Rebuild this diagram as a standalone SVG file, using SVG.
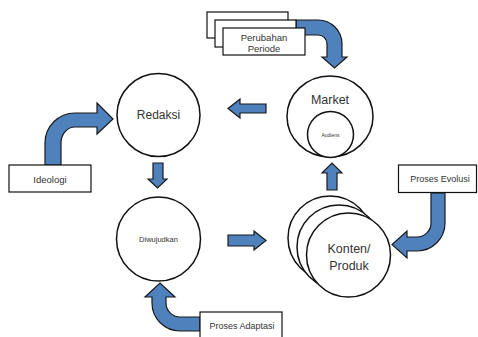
<svg xmlns="http://www.w3.org/2000/svg" width="478" height="337" viewBox="0 0 478 337">
<style>
.c{fill:#fff;stroke:#111;stroke-width:1.5}
.b{fill:#fff;stroke:#111;stroke-width:1.2}
.a{fill:#4f81bd;stroke:#1a1a1a;stroke-width:1.2;stroke-linejoin:miter}
text{font-family:"Liberation Sans",Arial,sans-serif;fill:#333;text-anchor:middle;dominant-baseline:central}
</style>
<rect width="478" height="337" fill="#fff"/>
<g id="connectors">
<path class="a" d="M228,108.5 L240,99 V104 H266 V113 H240 V118 Z"/>
<path class="a" d="M266,240.5 L254,231 V235 H228 V246 H254 V250 Z"/>
<path class="a" d="M148,179 H153 V163 H163 V179 H167 L157.5,188 Z"/>
<path class="a" d="M322,173 L332,163 L342,173 H337 V190 H327 V173 Z"/>
<path class="a" d="M45,165 V143 A30 30 0 0 1 75,113 H97 V103 L113,119 L97,134 V127 H75 A14 16 0 0 0 61,143 V165 Z"/>
<path class="a" d="M431,193 V223 A14 14 0 0 1 417,237 H407 V231 L392,244.5 L407,258 V251 H417 A28 28 0 0 0 445,223 V193 Z"/>
<path class="a" d="M200,317 H180 A14 14 0 0 1 166,303 V297 H175 L160,283 L145,297 H152 V303 A28 28 0 0 0 180,331 H200 Z"/>
<path class="a" d="M296,20 H318 A24 24 0 0 1 342,44 V57 H347 L334.5,68 L322,57 H327 V44 A9 9 0 0 0 318,35 H296 Z"/>
</g>
<g id="redaksi">
<circle class="c" cx="158.5" cy="115" r="41.5"/>
<text x="158.5" y="115" font-size="12">Redaksi</text>
</g>
<g id="diwujudkan">
<circle class="c" cx="158.5" cy="239" r="42"/>
<text x="158.5" y="239" font-size="7.5">Diwujudkan</text>
</g>
<g id="market">
<ellipse class="c" cx="330" cy="116.5" rx="43" ry="40.5"/>
<text x="330" y="100" font-size="12.5">Market</text>
<circle class="c" cx="330.5" cy="134.5" r="23"/>
<text x="330.5" y="135" font-size="5">Audiens</text>
</g>
<g id="konten">
<circle class="c" cx="330" cy="238" r="42"/>
<circle class="c" cx="339" cy="247" r="42"/>
<circle class="c" cx="348.5" cy="255" r="42"/>
<text x="349" y="249" font-size="12.5">Konten/</text>
<text x="349" y="266" font-size="12.5">Produk</text>
</g>
<g id="ideologi">
<rect class="b" x="9" y="165" width="82" height="27"/>
<text x="50" y="179" font-size="9.5">Ideologi</text>
</g>
<g id="proses-evolusi">
<rect class="b" x="398.5" y="165" width="78" height="27.5"/>
<text x="440" y="179" font-size="9">Proses Evolusi</text>
</g>
<g id="proses-adaptasi">
<rect class="b" x="200" y="312" width="82" height="28"/>
<text x="242" y="326" font-size="9">Proses Adaptasi</text>
</g>
<g id="perubahan-periode">
<rect class="b" x="207" y="12" width="81" height="26"/>
<rect class="b" x="215" y="20" width="81" height="27"/>
<rect class="b" x="223" y="28" width="82" height="27"/>
<text x="264" y="37" font-size="9.5">Perubahan</text>
<text x="264" y="48.5" font-size="9.5">Periode</text>
</g>
</svg>
